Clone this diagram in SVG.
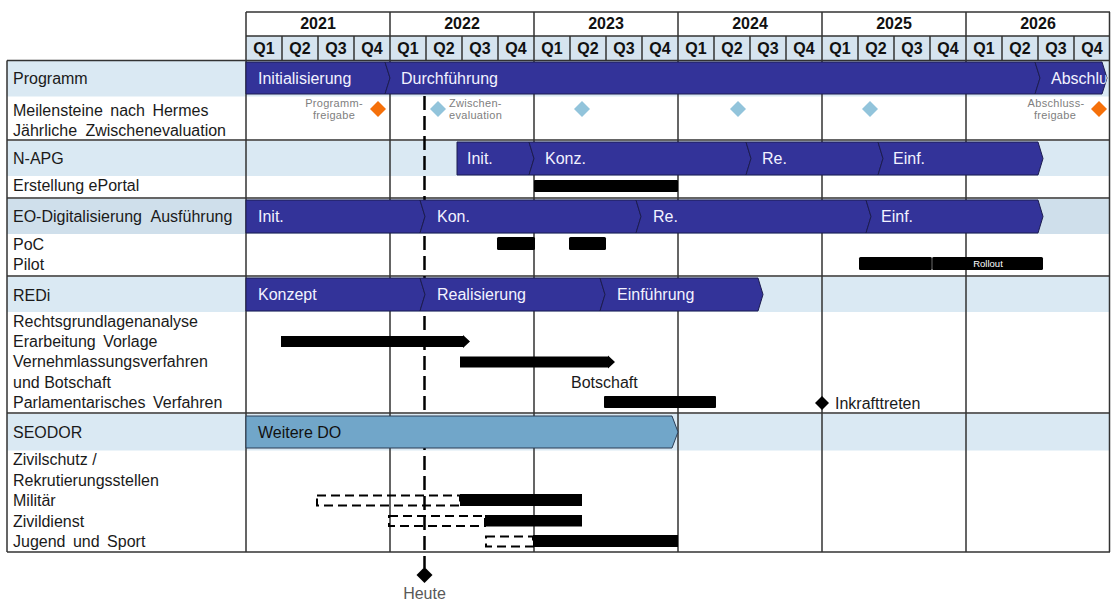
<svg xmlns="http://www.w3.org/2000/svg" width="1112" height="604" viewBox="0 0 1112 604">
<style>
text{font-family:"Liberation Sans",Arial,Helvetica,sans-serif}
.lbl{font-size:16px;fill:#1a1a1a}
.yr{font-size:16px;font-weight:bold;fill:#111;text-anchor:middle}
.q{font-size:16px;font-weight:bold;fill:#111;text-anchor:middle}
.bt{font-size:16px;fill:#f2f2ff}
.ms{font-size:11px;fill:#808080;letter-spacing:0.3px}
.band{fill:#dae9f3}
.grid{stroke:#333;stroke-width:1.5;fill:none}
.seg{fill:#333399;stroke:#1c1c50;stroke-width:1}
.bar{fill:#000}
.dash{fill:none;stroke:#000;stroke-width:2;stroke-dasharray:9 5}
.mb{fill:#92c4db}
.mo{fill:#f5700a}
</style>
<defs>
<clipPath id="absClip"><polygon points="1035,62 1102,62 1107,78 1102,94 1035,94 1040,78"/></clipPath>
</defs>
<rect width="1112" height="604" fill="#fff"/>

<g id="bands">
<rect class="band" x="7" y="61" width="1103" height="35.5"/>
<rect class="band" x="7" y="141" width="1103" height="35"/>
<rect x="7" y="199" width="1103" height="35" fill="#cfdfeb"/>
<rect class="band" x="7" y="277" width="1103" height="35"/>
<rect class="band" x="7" y="414" width="1103" height="36.5"/>
</g>

<g id="header">
<rect x="246" y="36" width="864" height="24.5" fill="#d6e4ef"/>
<path class="grid" d="M246,12H1110M246,36H1110M7,60.5H1110"/>
<path class="grid" d="M282,36V60.5M318,36V60.5M354,36V60.5M426,36V60.5M462,36V60.5M498,36V60.5M570,36V60.5M606,36V60.5M642,36V60.5M714,36V60.5M750,36V60.5M786,36V60.5M858,36V60.5M894,36V60.5M930,36V60.5M1002,36V60.5M1038,36V60.5M1074,36V60.5"/>
<text class="yr" x="318" y="29">2021</text>
<text class="yr" x="462" y="29">2022</text>
<text class="yr" x="606" y="29">2023</text>
<text class="yr" x="750" y="29">2024</text>
<text class="yr" x="894" y="29">2025</text>
<text class="yr" x="1038" y="29">2026</text>
<g>
<text class="q" x="264" y="54">Q1</text><text class="q" x="300" y="54">Q2</text><text class="q" x="336" y="54">Q3</text><text class="q" x="372" y="54">Q4</text>
<text class="q" x="408" y="54">Q1</text><text class="q" x="444" y="54">Q2</text><text class="q" x="480" y="54">Q3</text><text class="q" x="516" y="54">Q4</text>
<text class="q" x="552" y="54">Q1</text><text class="q" x="588" y="54">Q2</text><text class="q" x="624" y="54">Q3</text><text class="q" x="660" y="54">Q4</text>
<text class="q" x="696" y="54">Q1</text><text class="q" x="732" y="54">Q2</text><text class="q" x="768" y="54">Q3</text><text class="q" x="804" y="54">Q4</text>
<text class="q" x="840" y="54">Q1</text><text class="q" x="876" y="54">Q2</text><text class="q" x="912" y="54">Q3</text><text class="q" x="948" y="54">Q4</text>
<text class="q" x="984" y="54">Q1</text><text class="q" x="1020" y="54">Q2</text><text class="q" x="1056" y="54">Q3</text><text class="q" x="1092" y="54">Q4</text>
</g>
</g>

<g id="grid">
<path class="grid" d="M7,60.5V552M246,12V552M390,12V552M534,12V552M678,12V552M822,12V552M966,12V552M1109.5,12V552"/>
<path class="grid" d="M7,140H1110M7,198H1110M7,276H1110M7,413H1110M7,552H1110"/>
</g>

<g id="connectors">
<line x1="424.5" y1="96" x2="424.5" y2="568" stroke="#000" stroke-width="2.5" stroke-dasharray="14 6"/>
</g>

<g id="labels">
<text class="lbl" x="13" y="84">Programm</text>
<text class="lbl" x="13" y="115.5" word-spacing="3">Meilensteine nach Hermes</text>
<text class="lbl" x="13" y="135.5" word-spacing="4">Jährliche Zwischenevaluation</text>
<text class="lbl" x="13" y="164">N-APG</text>
<text class="lbl" x="13" y="191">Erstellung ePortal</text>
<text class="lbl" x="13" y="222" word-spacing="5">EO-Digitalisierung Ausführung</text>
<text class="lbl" x="13" y="250">PoC</text>
<text class="lbl" x="13" y="270">Pilot</text>
<text class="lbl" x="13" y="301">REDi</text>
<text class="lbl" x="13" y="327">Rechtsgrundlagenanalyse</text>
<text class="lbl" x="13" y="347" word-spacing="3">Erarbeitung Vorlage</text>
<text class="lbl" x="13" y="367">Vernehmlassungsverfahren</text>
<text class="lbl" x="13" y="387.5">und Botschaft</text>
<text class="lbl" x="13" y="408" word-spacing="3">Parlamentarisches Verfahren</text>
<text class="lbl" x="13" y="438">SEODOR</text>
<text class="lbl" x="13" y="465">Zivilschutz /</text>
<text class="lbl" x="13" y="485.5">Rekrutierungsstellen</text>
<text class="lbl" x="13" y="506">Militär</text>
<text class="lbl" x="13" y="526.5">Zivildienst</text>
<text class="lbl" x="13" y="547" word-spacing="3">Jugend und Sport</text>
</g>

<g id="programm">
<polygon class="seg" points="246,62 385,62 390,78 385,94 246,94"/>
<polygon class="seg" points="385,62 1035,62 1040,78 1035,94 385,94 390,78"/>
<polygon class="seg" points="1035,62 1102,62 1107,78 1102,94 1035,94 1040,78"/>
<text class="bt" x="258" y="84">Initialisierung</text>
<text class="bt" x="401" y="84">Durchführung</text>
<text class="bt" x="1051" y="84" clip-path="url(#absClip)">Abschluss</text>
</g>

<g id="meilensteine">
<text class="ms" x="334" y="106.5" text-anchor="middle">Programm-</text>
<text class="ms" x="334" y="118.5" text-anchor="middle">freigabe</text>
<polygon class="mo" points="378,101 386,109 378,117 370,109"/>
<polygon class="mb" points="438,101 446,109 438,117 430,109"/>
<text class="ms" x="449" y="106.5">Zwischen-</text>
<text class="ms" x="449" y="118.5">evaluation</text>
<polygon class="mb" points="582,101 590,109 582,117 574,109"/>
<polygon class="mb" points="738,101 746,109 738,117 730,109"/>
<polygon class="mb" points="870,101 878,109 870,117 862,109"/>
<text class="ms" x="1056" y="106.5" text-anchor="middle">Abschluss-</text>
<text class="ms" x="1055" y="118.5" text-anchor="middle">freigabe</text>
<polygon class="mo" points="1099,101 1107,109 1099,117 1091,109"/>
</g>

<g id="n-apg">
<polygon class="seg" points="457,142 529,142 534,158.5 529,175 457,175"/>
<polygon class="seg" points="529,142 746,142 751,158.5 746,175 529,175 534,158.5"/>
<polygon class="seg" points="746,142 878,142 883,158.5 878,175 746,175 751,158.5"/>
<polygon class="seg" points="878,142 1038,142 1043,158.5 1038,175 878,175 883,158.5"/>
<text class="bt" x="467" y="164">Init.</text>
<text class="bt" x="545" y="164">Konz.</text>
<text class="bt" x="762" y="164">Re.</text>
<text class="bt" x="893" y="164">Einf.</text>
<rect class="bar" x="534" y="180" width="144" height="12" rx="1"/>
</g>

<g id="eo-digitalisierung">
<polygon class="seg" points="246,200 420,200 425,216.5 420,233 246,233"/>
<polygon class="seg" points="420,200 636,200 641,216.5 636,233 420,233 425,216.5"/>
<polygon class="seg" points="636,200 866,200 871,216.5 866,233 636,233 641,216.5"/>
<polygon class="seg" points="866,200 1038,200 1043,216.5 1038,233 866,233 871,216.5"/>
<text class="bt" x="258" y="222">Init.</text>
<text class="bt" x="437" y="222">Kon.</text>
<text class="bt" x="653" y="222">Re.</text>
<text class="bt" x="881" y="222">Einf.</text>
<rect class="bar" x="497" y="237" width="38" height="13" rx="1.5"/>
<rect class="bar" x="569" y="237" width="37" height="13" rx="1.5"/>
<rect class="bar" x="859" y="257" width="73" height="13" rx="1.5"/>
<rect class="bar" x="932" y="257" width="111" height="13" rx="1.5"/>
<line x1="932" y1="257" x2="932" y2="270" stroke="#888" stroke-width="0.8"/>
<text x="988" y="267" font-size="9.5" fill="#fff" text-anchor="middle">Rollout</text>
</g>

<g id="redi">
<polygon class="seg" points="246,278 420,278 425,294.5 420,311 246,311"/>
<polygon class="seg" points="420,278 600,278 605,294.5 600,311 420,311 425,294.5"/>
<polygon class="seg" points="600,278 758,278 763,294.5 758,311 600,311 605,294.5"/>
<text class="bt" x="258" y="300">Konzept</text>
<text class="bt" x="437" y="300">Realisierung</text>
<text class="bt" x="617" y="300">Einführung</text>
<polygon class="bar" points="281,336 463,336 463,335 470,341.5 463,348 463,347 281,347"/>
<polygon class="bar" points="460,356.5 608,356.5 608,355.5 615,362 608,368.5 608,367.5 460,367.5"/>
<text class="lbl" x="571" y="387.5">Botschaft</text>
<rect class="bar" x="604" y="396" width="112" height="12" rx="1"/>
<polygon class="bar" points="822,396 829,403 822,410 815,403"/>
<text class="lbl" x="835" y="409">Inkrafttreten</text>
</g>

<g id="seodor">
<polygon points="246,416 672,416 678,432 672,448 246,448" fill="#71a6c9" stroke="#2a3d55" stroke-width="1"/>
<text x="258" y="438" font-size="16" fill="#111">Weitere DO</text>
<rect class="dash" x="317" y="495.5" width="143" height="10"/>
<rect class="bar" x="460" y="494" width="122" height="12"/>
<rect class="dash" x="389" y="516" width="96" height="10"/>
<rect class="bar" x="485" y="515" width="97" height="11.5"/>
<rect class="dash" x="486" y="536.5" width="47" height="10"/>
<rect class="bar" x="533" y="535" width="145" height="12"/>
</g>

<g id="heute">
<polygon points="424.5,567 432.5,575 424.5,583 416.5,575" fill="#000"/>
<text x="424.5" y="599" font-size="16" fill="#595959" text-anchor="middle">Heute</text>
</g>
</svg>
